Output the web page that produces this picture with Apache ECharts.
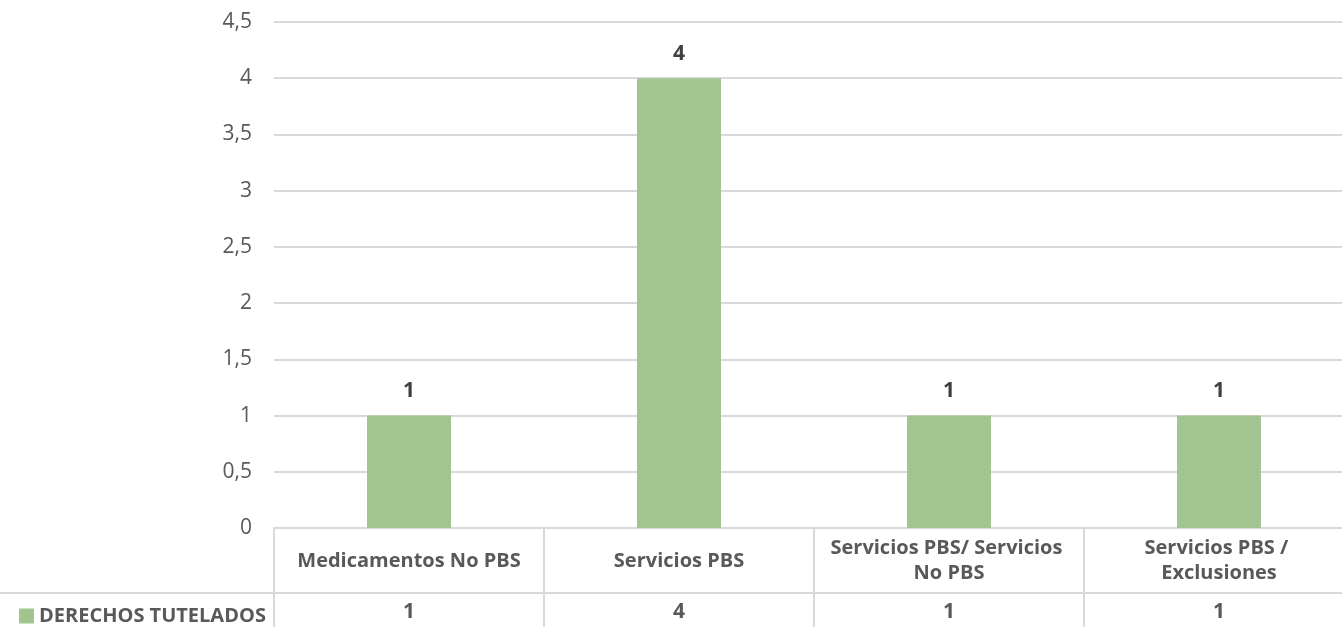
<!DOCTYPE html>
<html>
<head>
<meta charset="utf-8">
<script src="https://cdn.jsdelivr.net/npm/echarts@6/dist/echarts.min.js"></script>
<style>html,body{margin:0;padding:0;background:#fff;}#c{width:1342px;height:627px;}</style>
</head>
<body>
<div id="c"></div>
<script>
const categories = ['Medicamentos No PBS', 'Servicios PBS', 'Servicios PBS/ Servicios No PBS', 'Servicios PBS / Exclusiones'];
const seriesName = 'DERECHOS TUTELADOS';
const values = [1, 4, 1, 1];
const yTicks = { min: 0, max: 4.5, interval: 0.5 };

const FONT = 'Open Sans';
const chart = echarts.init(document.getElementById('c'));
chart.setOption({
  animation: false,
  textStyle: { fontFamily: FONT },
  grid: { left: 274, width: 1080, top: 22, bottom: 99, containLabel: false, outerBoundsMode: 'none' },
  legend: {
    data: [seriesName], left: 14, top: 601, itemWidth: 15, itemHeight: 15, icon: 'rect', itemGap: 6,
    textStyle: { fontFamily: FONT, fontSize: 20, fontWeight: 'bold', color: '#595959' }
  },
  xAxis: [
    {
      type: 'category', data: categories, position: 'bottom',
      axisLine: { show: true, lineStyle: { color: '#d9d9d9', width: 2 } },
      axisTick: { show: true, length: 99, lineStyle: { color: '#d9d9d9', width: 2 } },
      axisLabel: {
        interval: 0, margin: 33, verticalAlign: 'middle', width: 250, overflow: 'break',
        fontFamily: FONT, fontSize: 20, fontWeight: 'bold', color: '#595959', lineHeight: 25
      }
    },
    {
      type: 'category', data: categories, position: 'bottom', offset: 65,
      axisLine: { show: true, lineStyle: { color: '#d9d9d9', width: 2 } },
      axisTick: { show: false },
      axisLabel: {
        interval: 0, margin: 19, verticalAlign: 'middle',
        formatter: (v, i) => String(values[i]),
        fontFamily: FONT, fontSize: 21, fontWeight: 'bold', color: '#595959'
      }
    }
  ],
  yAxis: {
    type: 'value', min: yTicks.min, max: yTicks.max, interval: yTicks.interval,
    axisLine: { show: false }, axisTick: { show: false },
    splitLine: { lineStyle: { color: '#d9d9d9', width: 2 } },
    axisLabel: {
      margin: 22, fontFamily: FONT, fontSize: 21, color: '#595959',
      formatter: v => String(v).replace('.', ',')
    }
  },
  series: [{
    name: seriesName, type: 'bar', data: values, barWidth: 84, xAxisIndex: 0,
    itemStyle: { color: '#A2C490' },
    label: { show: true, position: 'top', distance: 14, fontFamily: FONT, fontSize: 21, fontWeight: 'bold', color: '#404040' }
  }],
  graphic: [
    { type: 'line', shape: { x1: 0, y1: 593, x2: 274, y2: 593 }, style: { stroke: '#d9d9d9', lineWidth: 2 } }
  ]
});
</script>
</body>
</html>
